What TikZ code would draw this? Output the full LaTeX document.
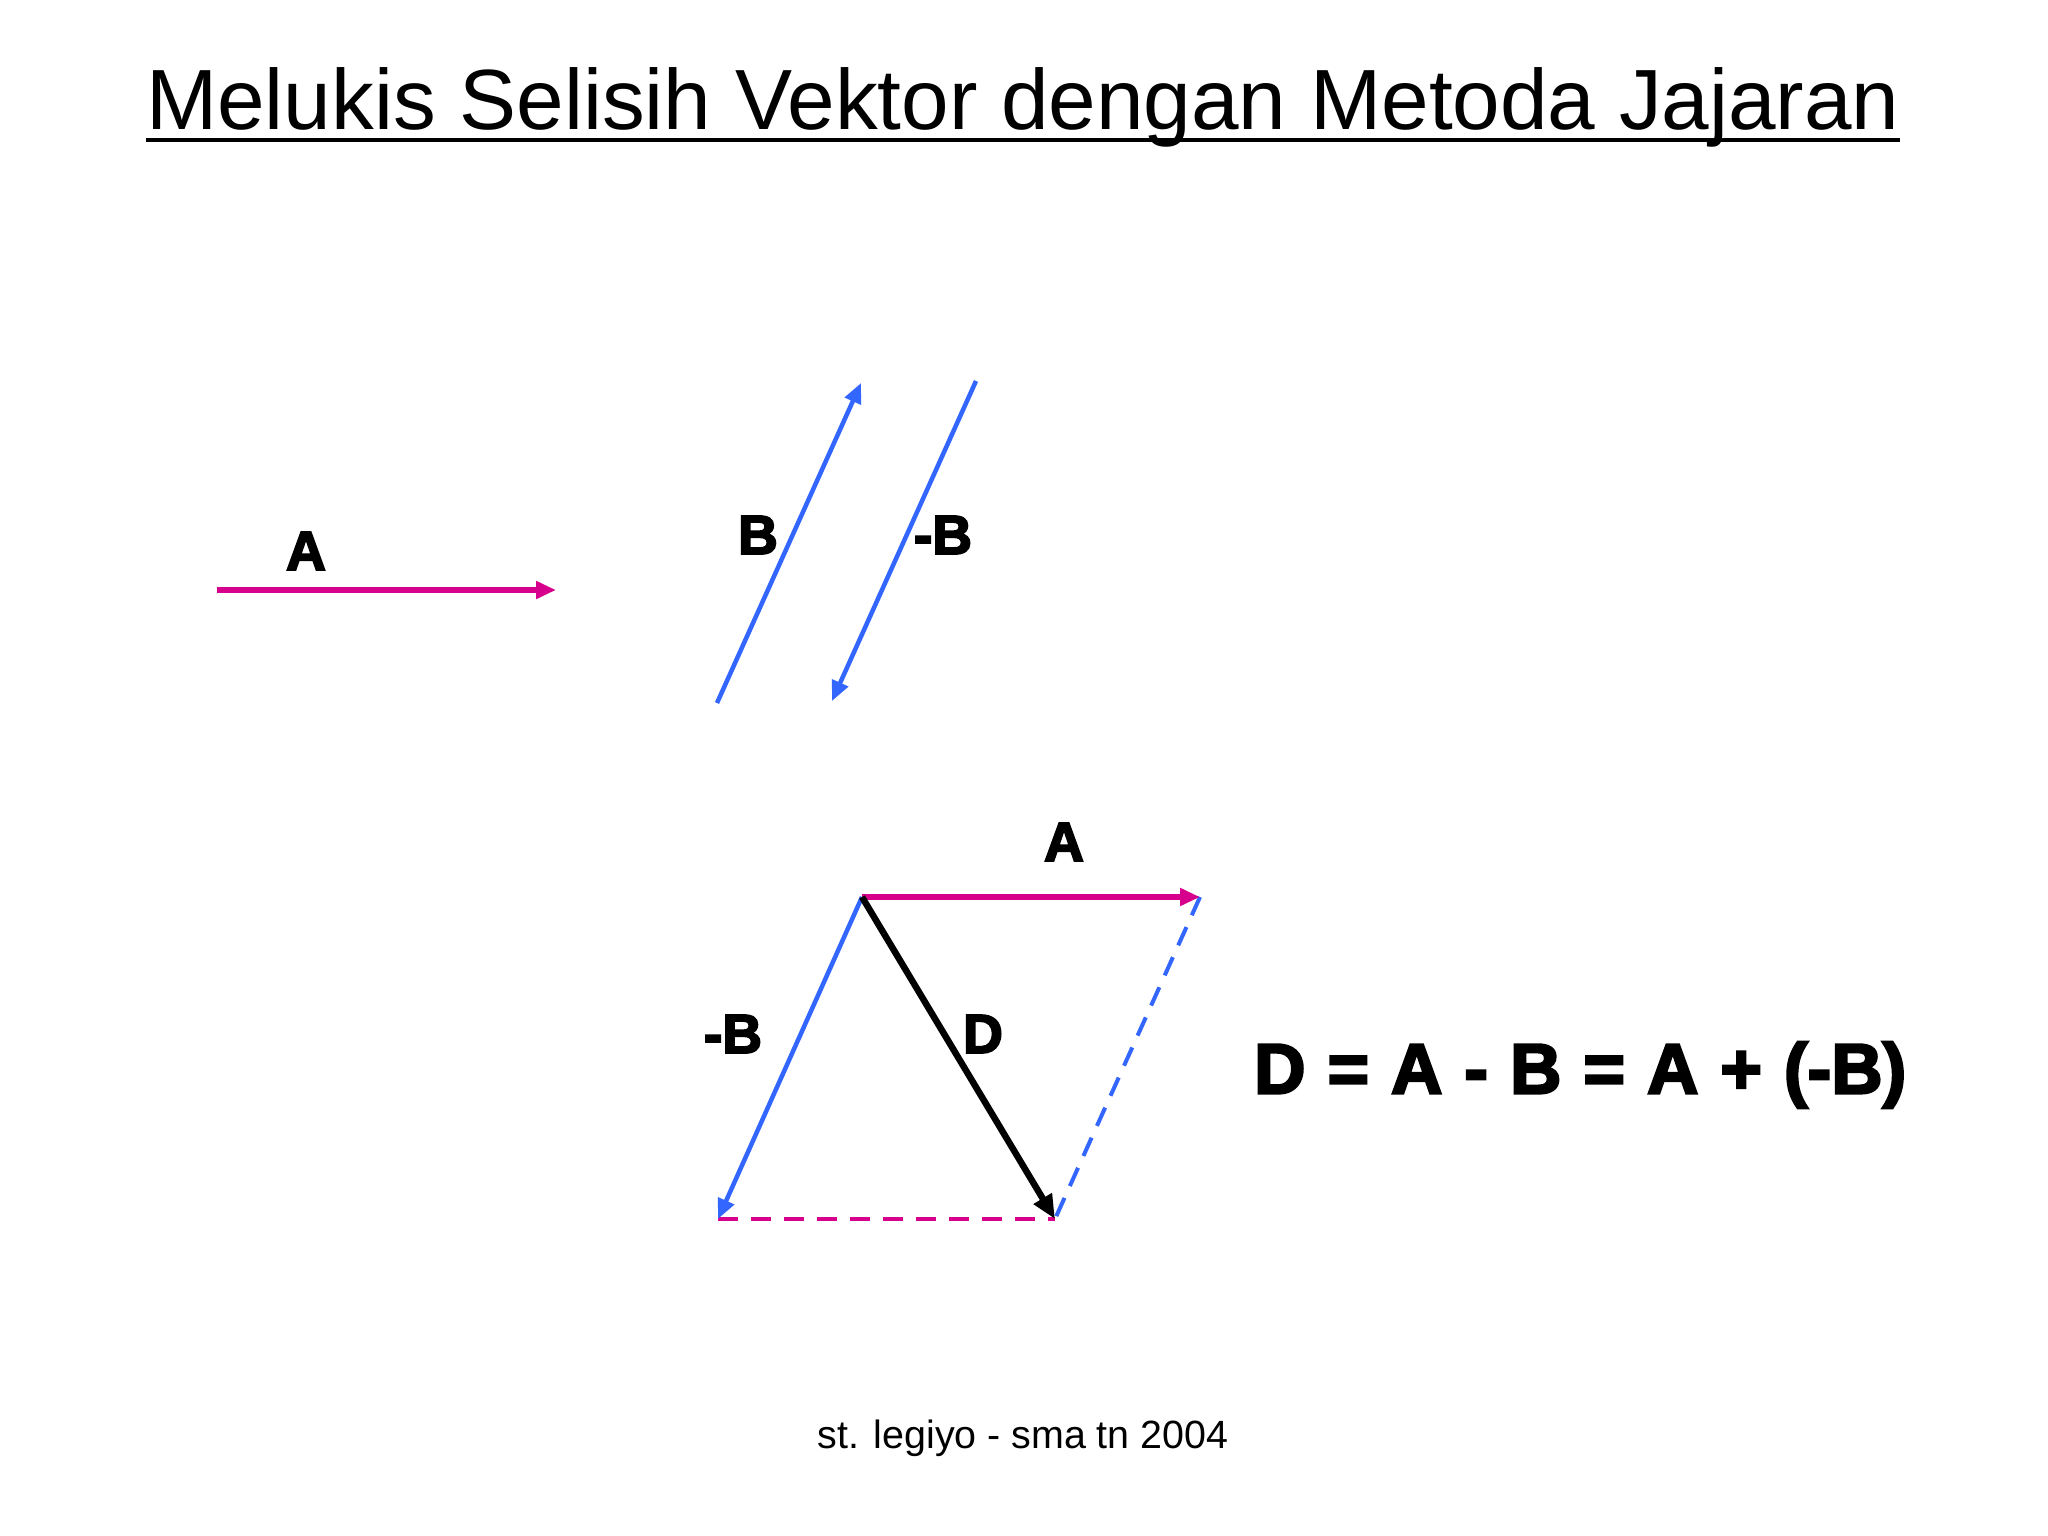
\documentclass[tikz,border=0pt]{standalone}
\usepackage{fontspec}
\setmainfont{Liberation Sans}
\newfontfamily\heavy[FakeBold=3.5]{Liberation Sans Bold}
\newfontfamily\heavyeq[FakeBold=3.5,WordSpace=1.12]{Liberation Sans Bold}
\usetikzlibrary{arrows.meta}
\definecolor{mag}{RGB}{214,0,140}
\definecolor{blu}{RGB}{51,102,255}
\begin{document}
\begin{tikzpicture}[x=1pt,y=-1pt,
  vec/.style={-{Triangle[length=20pt,width=17pt]}},
  magvec/.style={vec,draw=mag,line width=5.5pt},
  bluvec/.style={vec,draw=blu,line width=4.5pt},
  blkvec/.style={-{Triangle[length=24pt,width=20pt]},draw=black,line width=6.5pt},
  lbl/.style={font=\heavy\fontsize{55}{60}\selectfont,inner sep=0pt},
  dsh/.style={dash pattern=on 20pt off 13pt}]
\useasboundingbox (0,0) rectangle (2048,1536);
\fill[white] (0,0) rectangle (2048,1536);
% title
\node[font=\fontsize{85.5}{95}\selectfont,inner sep=0pt,anchor=base] (title) at (1023,130) {Melukis Selisih Vektor dengan Metoda Jajaran};
\draw[line width=4.5pt] (title.base west) ++(0,10) coordinate (ul1) -- (title.base east |- ul1);
% top vectors
\coordinate (a0) at (217,590);
\coordinate (a1) at (556,590);
\draw[magvec] (a0) -- (a1);
\node[lbl] (lA) at (306,551) {A};
\coordinate (b0) at (717,703);
\coordinate (b1) at (861,383);
\draw[bluvec] (b0) -- (b1);
\node[lbl] (lB) at (758,535) {B};
\coordinate (nb0) at (976,381);
\coordinate (nb1) at (832,701);
\draw[bluvec] (nb0) -- (nb1);
\node[lbl] (lnB) at (943,535) {-B};
% parallelogram
\coordinate (o) at (862,897);
\coordinate (p) at (1200,897);
\coordinate (q) at (718,1219);
\coordinate (r) at (1055,1219);
\draw[mag,line width=4pt,dsh] (q) -- (r);
\draw[blu,line width=4pt,dsh] (p) -- (r);
\draw[magvec] (o) -- (p);
\draw[bluvec] (o) -- (q);
\draw[blkvec] (o) -- (r);
\node[lbl] (lA2) at (1064,842) {A};
\node[lbl] (lnB2) at (733,1034) {-B};
\node[lbl] (lD) at (983,1034) {D};
% equation
\node[font=\heavyeq\fontsize{71}{80}\selectfont,inner sep=0pt,anchor=west] (eq) at (1254,1075) {D = A - B = A + (-B)};
% footer
\node[font=\fontsize{39.4}{44}\selectfont,inner sep=0pt] (foot) at (1023,1438) {st. legiyo - sma tn 2004};
\end{tikzpicture}
\end{document}
